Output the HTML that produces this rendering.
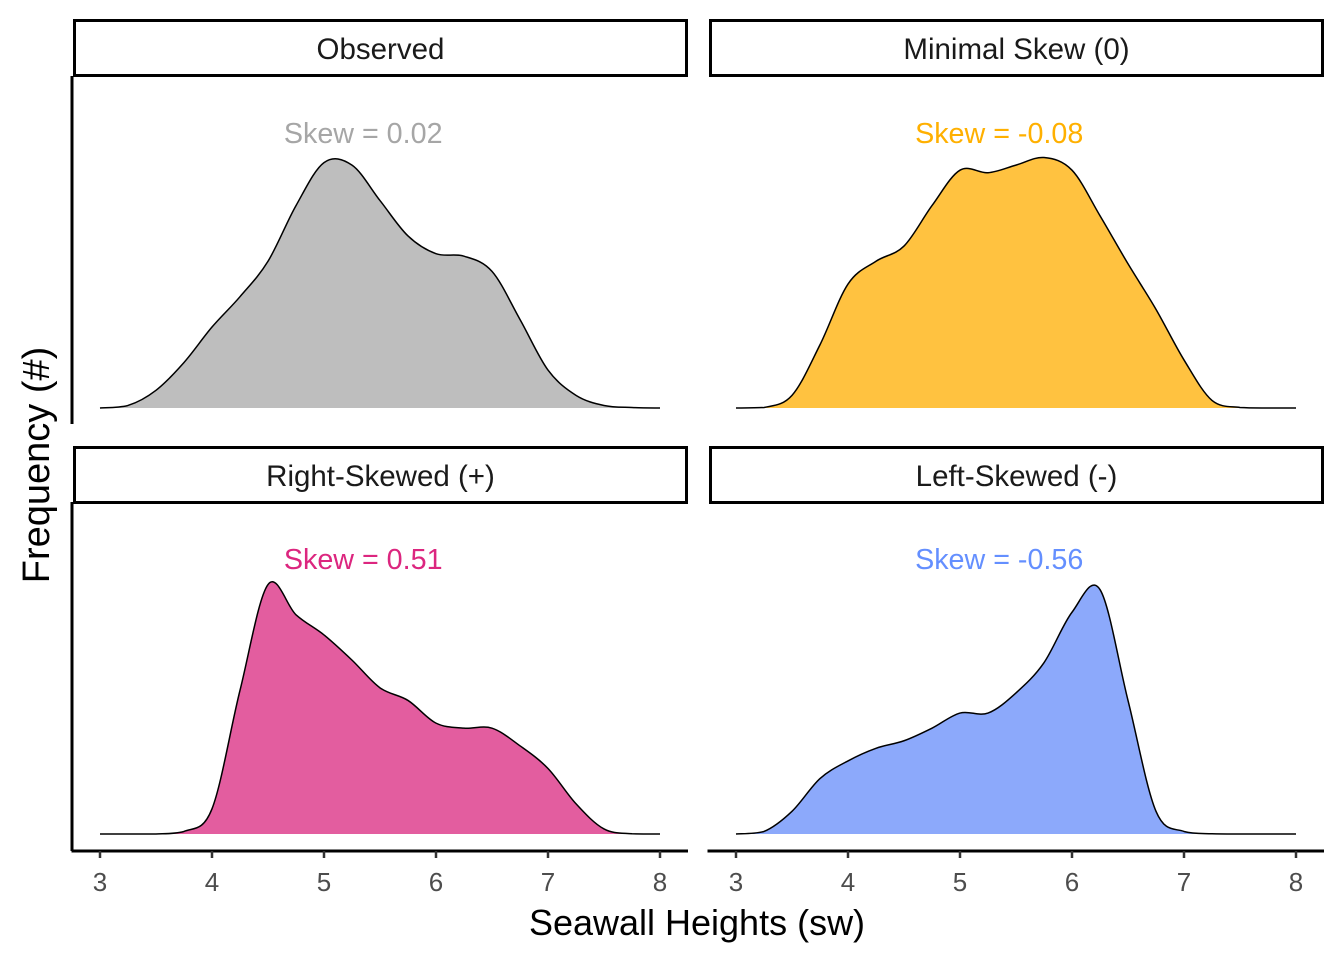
<!DOCTYPE html>
<html><head><meta charset="utf-8">
<style>
html,body{margin:0;padding:0;background:#fff;}
svg{display:block;font-family:"Liberation Sans",Arial,sans-serif;}
</style></head>
<body>
<svg id="chart" width="1344" height="960" viewBox="0 0 1344 960" xmlns="http://www.w3.org/2000/svg"></svg>
<script>
const xGrid = [3,3.25,3.5,3.75,4,4.25,4.5,4.75,5,5.25,5.5,5.75,6,6.25,6.5,6.75,7,7.25,7.5,7.75,8];
const observedDensity = [0,0.01,0.07,0.18,0.32,0.44,0.58,0.8,0.97,0.96,0.82,0.68,0.61,0.6,0.54,0.35,0.15,0.05,0.01,0.002,0];
const minimalDensity = [0,0.002,0.05,0.25,0.49,0.58,0.64,0.8,0.94,0.93,0.96,0.99,0.94,0.76,0.57,0.39,0.19,0.03,0.002,0,0];
const rightDensity = [0,0,0,0.01,0.1,0.57,0.99,0.87,0.79,0.69,0.58,0.53,0.44,0.42,0.42,0.35,0.26,0.12,0.02,0.001,0];
const leftDensity = [0,0.01,0.09,0.22,0.29,0.34,0.37,0.42,0.48,0.48,0.56,0.68,0.88,0.97,0.53,0.09,0.01,0.001,0,0,0];
const xTicks = [3,4,5,6,7,8];
const panelTitles = ["Observed","Minimal Skew (0)","Right-Skewed (+)","Left-Skewed (-)"];
const skewLabels = ["Skew = 0.02","Skew = -0.08","Skew = 0.51","Skew = -0.56"];

const svg = document.getElementById('chart');
const NS = "http://www.w3.org/2000/svg";
function mk(tag, attrs, parent){const e=document.createElementNS(NS,tag);for(const k in attrs)e.setAttribute(k,attrs[k]);(parent||svg).appendChild(e);return e;}

const panels = [
  {x0:73,x1:688,strip:19,top:76,base:408,peak:155,data:observedDensity,fill:"#bebebe",tc:"#a6a6a6",name:"observed"},
  {x0:709,x1:1324,strip:19,top:76,base:408,peak:155,data:minimalDensity,fill:"#ffc240",tc:"#ffb000",name:"minimal-skew"},
  {x0:73,x1:688,strip:446,top:502,base:834,peak:582,data:rightDensity,fill:"#e35d9f",tc:"#dc267f",name:"right-skewed"},
  {x0:709,x1:1324,strip:446,top:502,base:834,peak:582,data:leftDensity,fill:"#8ca9fb",tc:"#648fff",name:"left-skewed"}
];

panels.forEach((p,i)=>{
  const xs = v => p.x0 + 27 + (v-3)*112;
  const ys = v => p.base - v*(p.base-p.peak);
  const g = mk('g',{});
  
  
  const sr = mk('rect',{x:p.x0+1.5,y:p.strip+1.5,width:p.x1-p.x0-3,height:55,fill:"#fff",stroke:"#000","stroke-width":3},g);
  
  
  const st = mk('text',{x:(p.x0+p.x1)/2,y:p.strip+40,"text-anchor":"middle","font-size":"29.5",fill:"#1a1a1a"},g);
  st.textContent = panelTitles[i];
  
  
  const pts = xGrid.map((x,j)=>[xs(x), Math.min(p.base, ys(p.data[j]))]);
  let d = `M${pts[0][0]},${pts[0][1]}`;
  for(let j=0;j<pts.length-1;j++){
    const p0=pts[Math.max(0,j-1)],p1=pts[j],p2=pts[j+1],p3=pts[Math.min(pts.length-1,j+2)];
    const c1=[p1[0]+(p2[0]-p0[0])/6, Math.min(p.base,p1[1]+(p2[1]-p0[1])/6)];
    const c2=[p2[0]-(p3[0]-p1[0])/6, Math.min(p.base,p2[1]-(p3[1]-p1[1])/6)];
    d += ` C${c1[0]},${c1[1]} ${c2[0]},${c2[1]} ${p2[0]},${p2[1]}`;
  }
  const area = mk('path',{d:d+` L${pts[pts.length-1][0]},${p.base} L${pts[0][0]},${p.base} Z`,fill:p.fill,stroke:"none"},g);
  
  
  const line = mk('path',{d:d,fill:"none",stroke:"#000","stroke-width":1.5},g);
  
  
  const sk = mk('text',{x:xs(5.35),y:p.top+67,"text-anchor":"middle","font-size":"28.7",fill:p.tc},g);
  sk.textContent = skewLabels[i];
  
  
  if(p.x0<100){
    const ya = mk('line',{x1:72,x2:72,y1:p.top,y2:p.strip===19?424:851,stroke:"#000","stroke-width":3},g);
    
    
  }
  if(p.strip>400){
    const xa = mk('line',{x1:p.x0-1.5,x2:p.x1,y1:851,y2:851,stroke:"#000","stroke-width":3},g);
    
    
    xTicks.forEach(t=>{
      const tk = mk('line',{x1:xs(t),x2:xs(t),y1:851,y2:858,stroke:"#333","stroke-width":2.5},g);
      
      
      const tl = mk('text',{x:xs(t),y:891,"text-anchor":"middle","font-size":"26",fill:"#4d4d4d"},g);
      tl.textContent = t;
      
      
    });
  }
});

const xt = mk('text',{x:697,y:935,"text-anchor":"middle","font-size":"36",fill:"#000"});
xt.textContent = "Seawall Heights (sw)";


const yt = mk('text',{x:0,y:0,"text-anchor":"middle","font-size":"38",fill:"#000",transform:"translate(49,465) rotate(-90)"});
yt.textContent = "Frequency (#)";


</script>
</body></html>
